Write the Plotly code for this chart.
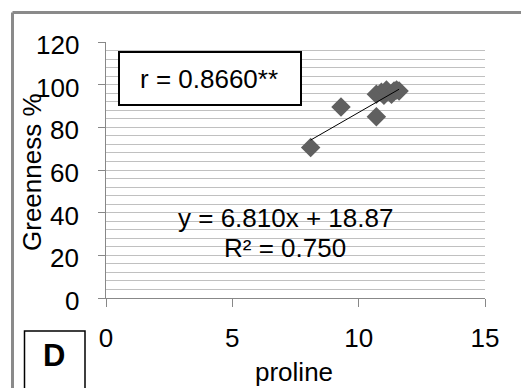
import plotly.graph_objects as go

# ---- data ----
proline = [8.1, 9.3, 10.7, 10.7, 10.9, 11.0, 11.1, 11.3, 11.4, 11.5, 11.6]
greenness = [70.5, 89.5, 85.0, 95.5, 96.5, 95.0, 97.5, 95.5, 97.0, 97.5, 97.0]
slope = 6.810
intercept = 18.87
r_text = "r = 0.8660**"
eq_text = "y = 6.810x + 18.87"
r2_text = "R² = 0.750"
panel_label = "D"
x_ticks = [0, 5, 10, 15]
y_ticks = [0, 20, 40, 60, 80, 100, 120]

# ---- layout geometry (pixels) ----
W, H = 521, 388
L, R, T, B = 106, 485, 42, 298
pw, ph = R - L, B - T


def px(x):
    return (x - L) / pw


def py(y):
    return (B - y) / ph


FONT = "Liberation Sans, Arial, sans-serif"
FS = 26

tx = [min(proline), max(proline)]
ty = [slope * v + intercept for v in tx]

fig = go.Figure()
fig.add_trace(go.Scatter(
    x=proline, y=greenness, mode="markers",
    marker=dict(symbol="diamond", size=15, color="#606060", line=dict(width=0)),
    showlegend=False, hoverinfo="skip"))
fig.add_trace(go.Scatter(
    x=tx, y=ty, mode="lines", line=dict(color="#000000", width=1),
    showlegend=False, hoverinfo="skip"))

fig.update_layout(
    width=W, height=H,
    margin=dict(l=L, r=W - R, t=T, b=H - B, pad=0),
    paper_bgcolor="white", plot_bgcolor="white",
    font=dict(family=FONT, size=FS, color="black"),
    xaxis=dict(range=[0, 15], tickvals=x_ticks, showgrid=False, zeroline=False,
               showline=True, linecolor="#888888", linewidth=1,
               ticks="outside", ticklen=8, tickcolor="#888888",
               ticklabelstandoff=9, tickfont=dict(size=FS)),
    yaxis=dict(range=[0, 120], tickvals=y_ticks, showgrid=True, gridcolor="#c0c0c0",
               gridwidth=1, zeroline=False, showticklabels=False,
               showline=True, linecolor="#888888", linewidth=1,
               ticks="outside", ticklen=7, tickcolor="#888888",
               minor=dict(dtick=4, showgrid=True, gridcolor="#c0c0c0", gridwidth=1)),
)

shapes = [
    # outer chart border (left and top visible)
    dict(type="line", xref="paper", yref="paper", x0=px(12.5), x1=px(12.5), y0=py(12.5), y1=py(400),
         line=dict(color="#8a8a8a", width=3)),
    dict(type="line", xref="paper", yref="paper", x0=px(12.5), x1=px(530), y0=py(12.5), y1=py(12.5),
         line=dict(color="#8a8a8a", width=3)),
    # r box
    dict(type="rect", xref="paper", yref="paper", x0=px(119), x1=px(301), y0=py(52), y1=py(105),
         line=dict(color="black", width=2), fillcolor="white"),
    # D box
    dict(type="rect", xref="paper", yref="paper", x0=px(24.5), x1=px(85), y0=py(331), y1=py(400),
         line=dict(color="black", width=1.5), fillcolor="white"),
]
fig.update_layout(shapes=shapes)

ann = [
    dict(text=r_text, x=px(208.5), y=py(79), font=dict(size=FS)),
    dict(text=eq_text, x=px(285), y=py(217.5), font=dict(size=FS)),
    dict(text=r2_text, x=px(285), y=py(247.5), font=dict(size=FS)),
    dict(text="<b>" + panel_label + "</b>", x=px(54), y=py(355), font=dict(size=31)),
    dict(text="proline", x=px(294), y=py(372), font=dict(size=FS)),
    dict(text="Greenness %", x=px(32), y=py(172), textangle=-90, font=dict(size=FS)),
]
for a in ann:
    fig.add_annotation(xref="paper", yref="paper", showarrow=False,
                       xanchor="center", yanchor="middle", **a)

# y tick labels, positioned on the y axis scale
for v in y_ticks:
    fig.add_annotation(text=str(v), xref="paper", x=px(81), xanchor="right",
                       yref="y", y=v, yanchor="middle", yshift=-3,
                       showarrow=False, font=dict(size=FS))

fig.write_html("out.html", config={"displayModeBar": False},
               post_script="document.body.style.margin='0';document.body.style.overflow='hidden';")
